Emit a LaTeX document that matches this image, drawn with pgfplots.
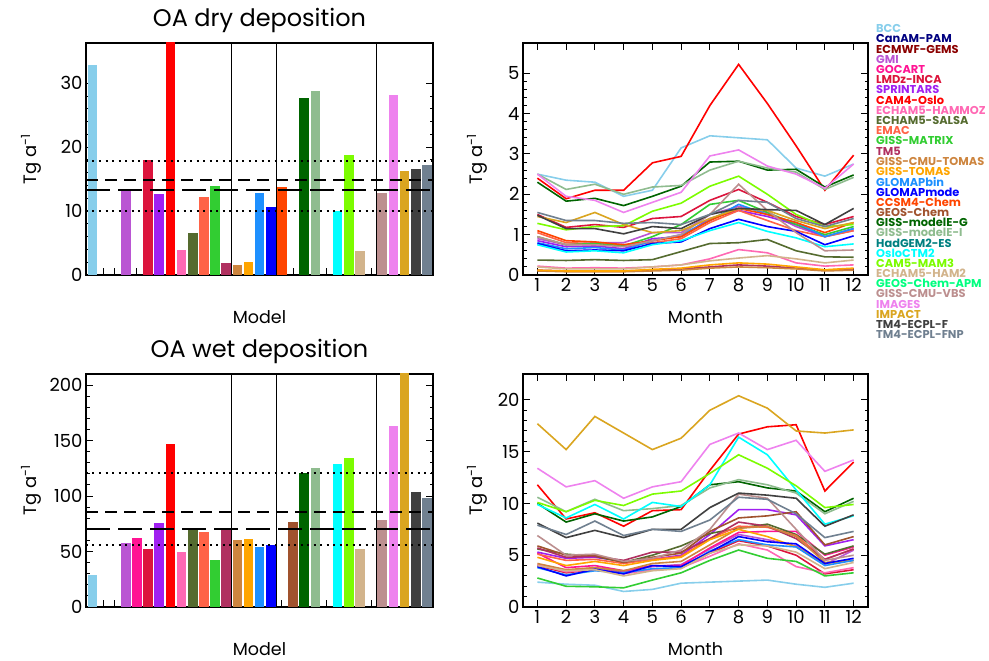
\documentclass[border=0pt]{standalone}
\usepackage{fontspec}
\setmainfont{Poppins}
\usepackage{pgfplots}
\usepackage{pgfplotstable}
\pgfplotsset{compat=1.18}

\definecolor{cBCC}{RGB}{135,206,235}
\definecolor{cCONAM}{RGB}{0,0,128}
\definecolor{cECMWF}{RGB}{139,0,0}
\definecolor{cGMI}{RGB}{186,85,211}
\definecolor{cGOC}{RGB}{255,20,147}
\definecolor{cLMDZ}{RGB}{220,20,60}
\definecolor{cSPR}{RGB}{160,32,240}
\definecolor{cCAM4}{RGB}{255,0,0}
\definecolor{cHMZ}{RGB}{255,105,180}
\definecolor{cSALSA}{RGB}{85,107,47}
\definecolor{cEMAC}{RGB}{255,99,71}
\definecolor{cMATRIX}{RGB}{50,205,50}
\definecolor{cTM5}{RGB}{176,48,96}
\definecolor{cCMUT}{RGB}{205,133,63}
\definecolor{cTOMAS}{RGB}{255,165,0}
\definecolor{cGLB}{RGB}{30,144,255}
\definecolor{cGLM}{RGB}{0,0,255}
\definecolor{cCCSM}{RGB}{255,69,0}
\definecolor{cGEOS}{RGB}{160,82,45}
\definecolor{cMEG}{RGB}{0,100,0}
\definecolor{cMEI}{RGB}{143,188,143}
\definecolor{cHAD}{RGB}{0,128,128}
\definecolor{cOSLO}{RGB}{0,255,255}
\definecolor{cCAM5}{RGB}{124,252,0}
\definecolor{cHAM2}{RGB}{210,180,140}
\definecolor{cAPM}{RGB}{0,255,127}
\definecolor{cVBS}{RGB}{188,143,143}
\definecolor{cIMG}{RGB}{238,130,238}
\definecolor{cIMP}{RGB}{218,165,32}
\definecolor{cTMF}{RGB}{64,64,64}
\definecolor{cTMFNP}{RGB}{112,128,144}

% monthly dry deposition
\pgfplotstableread{
m BCC GMI LMDz SPR CAM4 HMZ SALSA EMAC MATRIX TM5 CMUT TOMAS GLB GLM CCSM MEG MEI OSLO CAM5 HAM2 VBS IMG IMP TMF TMFNP
1  2.50 0.90 1.50 0.85 2.40 0.22 0.37 1.05 0.95 0.12 0.10 0.12 0.80 0.78 1.10 2.30 2.50 0.75 1.28 0.20 0.95 2.50 1.45 1.48 1.55
2  2.35 0.75 1.18 0.70 1.89 0.17 0.36 0.80 0.75 0.10 0.08 0.10 0.65 0.60 0.85 1.83 2.12 0.57 1.12 0.15 0.75 1.95 1.30 1.15 1.35
3  2.30 0.80 1.25 0.72 2.10 0.18 0.38 0.78 0.78 0.10 0.08 0.10 0.68 0.62 0.82 1.90 2.25 0.60 1.20 0.15 0.75 1.85 1.55 1.15 1.35
4  1.95 0.80 1.18 0.65 2.10 0.17 0.36 0.72 0.72 0.10 0.08 0.10 0.62 0.60 0.75 1.72 2.00 0.55 1.22 0.15 0.70 1.55 1.25 1.02 1.28
5  2.10 1.05 1.40 0.90 2.78 0.20 0.38 0.80 0.95 0.12 0.10 0.14 0.85 0.78 0.85 1.95 2.18 0.75 1.58 0.20 0.85 1.80 1.05 1.20 1.30
6  3.15 1.05 1.45 0.95 2.94 0.25 0.58 0.90 1.25 0.15 0.12 0.17 1.00 0.82 0.95 2.20 2.22 0.85 1.78 0.25 1.00 2.05 1.10 1.15 1.25
7  3.45 1.50 1.85 1.40 4.20 0.40 0.78 1.30 1.75 0.20 0.17 0.25 1.35 1.15 1.35 2.80 2.60 1.10 2.20 0.35 1.50 2.95 1.40 1.50 1.50
8  3.40 1.70 2.12 1.60 5.22 0.63 0.80 1.60 1.85 0.25 0.20 0.30 1.75 1.38 1.65 2.82 2.82 1.30 2.45 0.42 2.25 3.10 1.65 1.65 1.85
9  3.35 1.55 1.80 1.45 4.25 0.55 0.88 1.35 1.55 0.22 0.18 0.27 1.50 1.20 1.50 2.60 2.65 1.08 2.00 0.48 1.60 2.70 1.60 1.62 1.80
10 2.65 1.20 1.45 1.25 3.20 0.30 0.60 1.10 1.25 0.17 0.15 0.20 1.30 1.08 1.30 2.62 2.55 0.92 1.50 0.40 1.05 2.50 1.35 1.60 1.40
11 2.45 0.95 1.25 0.95 2.10 0.22 0.45 0.95 1.00 0.12 0.10 0.13 0.95 0.75 1.05 2.18 2.12 0.70 1.20 0.30 0.60 2.15 1.15 1.25 1.20
12 2.75 1.10 1.45 1.15 2.97 0.25 0.44 1.10 1.20 0.15 0.12 0.17 1.15 0.97 1.30 2.48 2.42 0.77 1.25 0.37 0.62 2.75 1.30 1.65 1.40
}\dry

% monthly wet deposition
\pgfplotstableread{
m BCC GMI GOC LMDz SPR CAM4 HMZ SALSA EMAC MATRIX TM5 CMUT TOMAS GLB GLM GEOS MEG MEI OSLO CAM5 HAM2 VBS IMG IMP TMF TMFNP
1  2.4 4.0 5.2 4.0 5.3 11.8 4.1 5.6 5.1 2.80 5.7 4.2 4.8 3.8 3.90 5.9 10.0 10.6 9.9 10.1 4.0 6.9 13.4 17.7 8.1 7.9
2  2.2 3.5 3.8 3.3 4.7 8.5 3.4 5.1 4.5 2.00 4.8 3.6 4.0 3.1 3.00 5.0 8.2 9.2 8.6 9.2 3.5 5.0 11.6 15.2 6.7 7.0
3  2.1 3.8 4.0 3.6 4.8 9.1 3.6 4.9 4.6 1.95 4.9 3.8 4.4 3.5 3.65 5.0 9.0 10.4 9.9 10.3 3.6 5.1 12.2 18.4 7.4 8.3
4  1.5 3.4 3.5 3.3 4.4 7.8 3.2 4.3 4.2 1.85 4.5 3.5 4.0 3.3 3.20 4.3 8.3 9.3 8.5 9.8 3.0 4.4 10.5 16.8 6.7 6.9
5  1.7 3.9 4.0 3.6 4.6 9.3 3.6 5.0 4.6 2.60 5.3 4.2 4.5 3.7 4.00 4.8 8.7 9.5 10.1 10.9 3.5 4.7 11.6 15.2 7.5 7.5
6  2.3 4.1 4.0 3.8 5.0 9.4 3.8 5.9 4.9 3.30 5.3 4.4 4.8 3.8 3.90 5.2 9.7 9.8 9.7 11.2 3.7 5.5 12.1 16.3 7.5 7.3
7  2.4 5.6 5.7 5.2 7.0 13.2 4.9 7.1 6.6 4.50 6.6 6.0 6.5 5.4 5.30 7.3 11.8 11.5 11.8 12.9 5.2 7.5 15.7 19.0 9.6 8.4
8  2.5 7.0 7.2 6.4 9.4 16.7 6.1 7.6 7.8 5.50 8.2 7.6 7.5 6.5 6.80 8.6 12.1 12.3 16.4 14.7 6.0 10.9 16.8 20.4 11.0 10.6
9  2.6 6.5 7.3 5.9 9.4 17.4 5.5 8.0 7.7 4.70 7.8 7.8 6.8 6.0 6.30 8.8 11.5 11.8 14.7 13.4 5.9 10.5 15.2 19.2 10.8 10.4
10 2.2 5.9 7.3 5.0 8.9 17.6 3.9 7.0 6.9 4.40 6.6 6.8 5.8 5.8 6.10 9.2 11.2 11.0 11.3 11.7 5.3 7.5 16.1 17.0 10.5 9.0
11 1.9 4.1 5.0 3.2 5.9 11.2 3.3 5.1 4.6 3.00 4.6 4.3 4.2 4.0 4.20 6.0 9.2 9.0 8.0 9.6 3.7 4.5 13.1 16.8 7.8 6.7
12 2.3 5.5 5.8 3.6 6.5 14.0 3.8 5.9 5.6 3.30 5.6 4.5 4.5 4.5 4.70 6.8 10.5 10.2 8.8 9.9 4.3 5.0 14.2 17.1 8.9 7.3
}\wet

\pgfplotsset{
  base/.style={scale only axis, axis line style={line width=1.5pt},
    tick style={line width=1pt, black}, tick align=inside,
    major tick length=7pt, minor tick length=3.5pt,
    tick label style={font=\fontsize{18}{18}\selectfont},
    /pgf/number format/assume math mode=true,
    title style={at={(0.5,1)}, anchor=base, yshift=10pt, font=\fontsize{24}{24}\selectfont},
    every axis x label/.style={at={(axis description cs:0.5,0)}, anchor=center, yshift=-42pt,
      inner sep=0pt, font=\fontsize{17.5}{17.5}\selectfont},
  },
  barax/.style={base, width=347pt, xmin=-0.57, xmax=30.55, ymin=0,
    xtick={0,...,30}, xticklabel style={opacity=0}, xtick pos=left, ytick pos=both,
    minor y tick num=4, xlabel={Model},
    ylabel={Tg a\textsuperscript{-1}},
    every axis y label/.style={at={(axis description cs:-0.158,0.5)}, rotate=90, anchor=center,
      inner sep=0pt, font=\fontsize{18}{18}\selectfont}},
  lineax/.style={base, width=345pt, xmin=0.5, xmax=12.5, ymin=0,
    xtick={1,...,12}, minor y tick num=4, xlabel={Month},
    ylabel={Tg a\textsuperscript{-1}},
    every axis y label/.style={at={(axis description cs:-0.133,0.5)}, rotate=90, anchor=center,
      inner sep=0pt, font=\fontsize{18}{18}\selectfont}},
  mybar/.style={ybar, bar width=0.86, bar shift=0pt, draw=none, fill=#1},
  ln/.style={line width=1.6pt, no markers, color=#1},
  sep/.style={line width=1.5pt, black, no markers},
  dotl/.style={line width=2pt, black, no markers, dash pattern=on 2pt off 4.5pt},
  dshl/.style={line width=2pt, black, no markers, dash pattern=on 12pt off 7pt},
  ldshl/.style={line width=2pt, black, no markers, dash pattern=on 24pt off 8pt},
}

\begin{document}
\begin{tikzpicture}
\path[use as bounding box] (0,0) rectangle (989pt,661pt);

% ---------------- dry deposition bars ----------------
\begin{axis}[barax, at={(86pt,386pt)}, anchor=south west, height=232pt,
  ymax=36.3, ytick={0,10,20,30}, title={OA dry deposition}]
\addplot[mybar=cBCC] coordinates {(0,32.9)};
\addplot[mybar=cGMI] coordinates {(3,13.3)};
\addplot[mybar=cLMDZ] coordinates {(5,18.0)};
\addplot[mybar=cSPR] coordinates {(6,12.6)};
\addplot[mybar=cCAM4] coordinates {(7,38.0)};
\addplot[mybar=cHMZ] coordinates {(8,3.9)};
\addplot[mybar=cSALSA] coordinates {(9,6.6)};
\addplot[mybar=cEMAC] coordinates {(10,12.2)};
\addplot[mybar=cMATRIX] coordinates {(11,13.9)};
\addplot[mybar=cTM5] coordinates {(12,1.8)};
\addplot[mybar=cCMUT] coordinates {(13,1.5)};
\addplot[mybar=cTOMAS] coordinates {(14,2.1)};
\addplot[mybar=cGLB] coordinates {(15,12.8)};
\addplot[mybar=cGLM] coordinates {(16,10.7)};
\addplot[mybar=cCCSM] coordinates {(17,13.7)};
\addplot[mybar=cMEG] coordinates {(19,27.7)};
\addplot[mybar=cMEI] coordinates {(20,28.8)};
\addplot[mybar=cOSLO] coordinates {(22,10.0)};
\addplot[mybar=cCAM5] coordinates {(23,18.7)};
\addplot[mybar=cHAM2] coordinates {(24,3.7)};
\addplot[mybar=cVBS] coordinates {(26,12.8)};
\addplot[mybar=cIMG] coordinates {(27,28.2)};
\addplot[mybar=cIMP] coordinates {(28,16.2)};
\addplot[mybar=cTMF] coordinates {(29,16.6)};
\addplot[mybar=cTMFNP] coordinates {(30,17.2)};
\addplot[sep] coordinates {(12.5,0) (12.5,36.3)};
\addplot[sep] coordinates {(16.5,0) (16.5,36.3)};
\addplot[sep] coordinates {(25.5,0) (25.5,36.3)};
\addplot[dotl] coordinates {(-0.57,17.9) (30.55,17.9)};
\addplot[dotl] coordinates {(-0.57,10.0) (30.55,10.0)};
\addplot[dshl] coordinates {(-0.57,14.8) (30.55,14.8)};
\addplot[ldshl] coordinates {(-0.57,13.3) (30.55,13.3)};
\end{axis}

% ---------------- wet deposition bars ----------------
\begin{axis}[barax, at={(86pt,54pt)}, anchor=south west, height=233pt,
  ymax=210, ytick={0,50,100,150,200}, title={OA wet deposition}]
\addplot[mybar=cBCC] coordinates {(0,29)};
\addplot[mybar=cGMI] coordinates {(3,58)};
\addplot[mybar=cGOC] coordinates {(4,62)};
\addplot[mybar=cLMDZ] coordinates {(5,52)};
\addplot[mybar=cSPR] coordinates {(6,76)};
\addplot[mybar=cCAM4] coordinates {(7,147)};
\addplot[mybar=cHMZ] coordinates {(8,49.5)};
\addplot[mybar=cSALSA] coordinates {(9,71)};
\addplot[mybar=cEMAC] coordinates {(10,68)};
\addplot[mybar=cMATRIX] coordinates {(11,42)};
\addplot[mybar=cTM5] coordinates {(12,70)};
\addplot[mybar=cCMUT] coordinates {(13,60.5)};
\addplot[mybar=cTOMAS] coordinates {(14,61.5)};
\addplot[mybar=cGLB] coordinates {(15,54)};
\addplot[mybar=cGLM] coordinates {(16,56)};
\addplot[mybar=cGEOS] coordinates {(18,77)};
\addplot[mybar=cMEG] coordinates {(19,121)};
\addplot[mybar=cMEI] coordinates {(20,125.5)};
\addplot[mybar=cOSLO] coordinates {(22,128.5)};
\addplot[mybar=cCAM5] coordinates {(23,134.5)};
\addplot[mybar=cHAM2] coordinates {(24,52)};
\addplot[mybar=cVBS] coordinates {(26,78)};
\addplot[mybar=cIMG] coordinates {(27,163)};
\addplot[mybar=cIMP] coordinates {(28,212)};
\addplot[mybar=cTMF] coordinates {(29,103.5)};
\addplot[mybar=cTMFNP] coordinates {(30,98)};
\addplot[sep] coordinates {(12.5,0) (12.5,210)};
\addplot[sep] coordinates {(16.5,0) (16.5,210)};
\addplot[sep] coordinates {(25.5,0) (25.5,210)};
\addplot[dotl] coordinates {(-0.57,120.6) (30.55,120.6)};
\addplot[dotl] coordinates {(-0.57,55.5) (30.55,55.5)};
\addplot[dshl] coordinates {(-0.57,86) (30.55,86)};
\addplot[ldshl] coordinates {(-0.57,70) (30.55,70)};
\end{axis}

% ---------------- dry monthly ----------------
\begin{axis}[lineax, at={(523pt,386pt)}, anchor=south west, height=232pt,
  ymax=5.75, ytick={0,1,2,3,4,5}]
\addplot[ln=cBCC] table[x=m,y=BCC]{\dry};
\addplot[ln=cGMI] table[x=m,y=GMI]{\dry};
\addplot[ln=cLMDZ] table[x=m,y=LMDz]{\dry};
\addplot[ln=cSPR] table[x=m,y=SPR]{\dry};
\addplot[ln=cCAM4] table[x=m,y=CAM4]{\dry};
\addplot[ln=cHMZ] table[x=m,y=HMZ]{\dry};
\addplot[ln=cSALSA] table[x=m,y=SALSA]{\dry};
\addplot[ln=cEMAC] table[x=m,y=EMAC]{\dry};
\addplot[ln=cMATRIX] table[x=m,y=MATRIX]{\dry};
\addplot[ln=cTM5] table[x=m,y=TM5]{\dry};
\addplot[ln=cCMUT] table[x=m,y=CMUT]{\dry};
\addplot[ln=cTOMAS] table[x=m,y=TOMAS]{\dry};
\addplot[ln=cGLB] table[x=m,y=GLB]{\dry};
\addplot[ln=cGLM] table[x=m,y=GLM]{\dry};
\addplot[ln=cCCSM] table[x=m,y=CCSM]{\dry};
\addplot[ln=cMEG] table[x=m,y=MEG]{\dry};
\addplot[ln=cMEI] table[x=m,y=MEI]{\dry};
\addplot[ln=cOSLO] table[x=m,y=OSLO]{\dry};
\addplot[ln=cCAM5] table[x=m,y=CAM5]{\dry};
\addplot[ln=cHAM2] table[x=m,y=HAM2]{\dry};
\addplot[ln=cVBS] table[x=m,y=VBS]{\dry};
\addplot[ln=cIMG] table[x=m,y=IMG]{\dry};
\addplot[ln=cIMP] table[x=m,y=IMP]{\dry};
\addplot[ln=cTMF] table[x=m,y=TMF]{\dry};
\addplot[ln=cTMFNP] table[x=m,y=TMFNP]{\dry};
\end{axis}

% ---------------- wet monthly ----------------
\begin{axis}[lineax, at={(523pt,54pt)}, anchor=south west, height=233pt,
  ymax=22.5, ytick={0,5,10,15,20}]
\addplot[ln=cBCC] table[x=m,y=BCC]{\wet};
\addplot[ln=cGMI] table[x=m,y=GMI]{\wet};
\addplot[ln=cGOC] table[x=m,y=GOC]{\wet};
\addplot[ln=cLMDZ] table[x=m,y=LMDz]{\wet};
\addplot[ln=cSPR] table[x=m,y=SPR]{\wet};
\addplot[ln=cCAM4] table[x=m,y=CAM4]{\wet};
\addplot[ln=cHMZ] table[x=m,y=HMZ]{\wet};
\addplot[ln=cSALSA] table[x=m,y=SALSA]{\wet};
\addplot[ln=cEMAC] table[x=m,y=EMAC]{\wet};
\addplot[ln=cMATRIX] table[x=m,y=MATRIX]{\wet};
\addplot[ln=cTM5] table[x=m,y=TM5]{\wet};
\addplot[ln=cCMUT] table[x=m,y=CMUT]{\wet};
\addplot[ln=cTOMAS] table[x=m,y=TOMAS]{\wet};
\addplot[ln=cGLB] table[x=m,y=GLB]{\wet};
\addplot[ln=cGLM] table[x=m,y=GLM]{\wet};
\addplot[ln=cGEOS] table[x=m,y=GEOS]{\wet};
\addplot[ln=cMEG] table[x=m,y=MEG]{\wet};
\addplot[ln=cMEI] table[x=m,y=MEI]{\wet};
\addplot[ln=cOSLO] table[x=m,y=OSLO]{\wet};
\addplot[ln=cCAM5] table[x=m,y=CAM5]{\wet};
\addplot[ln=cHAM2] table[x=m,y=HAM2]{\wet};
\addplot[ln=cVBS] table[x=m,y=VBS]{\wet};
\addplot[ln=cIMG] table[x=m,y=IMG]{\wet};
\addplot[ln=cIMP] table[x=m,y=IMP]{\wet};
\addplot[ln=cTMF] table[x=m,y=TMF]{\wet};
\addplot[ln=cTMFNP] table[x=m,y=TMFNP]{\wet};
\end{axis}

% ---------------- legend (model names) ----------------
\begin{scope}[every node/.style={anchor=west, inner sep=0pt, font=\fontsize{11.4}{11.4}\selectfont\bfseries}]
\node[text=cBCC]   at (876pt,632.3pt) {BCC};
\node[text=cCONAM] at (876pt,622.1pt) {CanAM-PAM};
\node[text=cECMWF] at (876pt,611.9pt) {ECMWF-GEMS};
\node[text=cGMI]   at (876pt,601.7pt) {GMI};
\node[text=cGOC]   at (876pt,591.5pt) {GOCART};
\node[text=cLMDZ]  at (876pt,581.3pt) {LMDz-INCA};
\node[text=cSPR]   at (876pt,571.1pt) {SPRINTARS};
\node[text=cCAM4]  at (876pt,560.9pt) {CAM4-Oslo};
\node[text=cHMZ]   at (876pt,550.7pt) {ECHAM5-HAMMOZ};
\node[text=cSALSA] at (876pt,540.5pt) {ECHAM5-SALSA};
\node[text=cEMAC]  at (876pt,530.3pt) {EMAC};
\node[text=cMATRIX] at (876pt,520.1pt) {GISS-MATRIX};
\node[text=cTM5]   at (876pt,509.9pt) {TM5};
\node[text=cCMUT]  at (876pt,499.7pt) {GISS-CMU-TOMAS};
\node[text=cTOMAS] at (876pt,489.5pt) {GISS-TOMAS};
\node[text=cGLB]   at (876pt,479.3pt) {GLOMAPbin};
\node[text=cGLM]   at (876pt,469.1pt) {GLOMAPmode};
\node[text=cCCSM]  at (876pt,458.9pt) {CCSM4-Chem};
\node[text=cGEOS]  at (876pt,448.7pt) {GEOS-Chem};
\node[text=cMEG]   at (876pt,438.5pt) {GISS-modelE-G};
\node[text=cMEI]   at (876pt,428.3pt) {GISS-modelE-I};
\node[text=cHAD]   at (876pt,418.1pt) {HadGEM2-ES};
\node[text=cOSLO]  at (876pt,407.9pt) {OsloCTM2};
\node[text=cCAM5]  at (876pt,397.7pt) {CAM5-MAM3};
\node[text=cHAM2]  at (876pt,387.5pt) {ECHAM5-HAM2};
\node[text=cAPM]   at (876pt,377.3pt) {GEOS-Chem-APM};
\node[text=cVBS]   at (876pt,367.1pt) {GISS-CMU-VBS};
\node[text=cIMG]   at (876pt,356.9pt) {IMAGES};
\node[text=cIMP]   at (876pt,346.7pt) {IMPACT};
\node[text=cTMF]   at (876pt,336.5pt) {TM4-ECPL-F};
\node[text=cTMFNP] at (876pt,326.3pt) {TM4-ECPL-FNP};
\end{scope}
\end{tikzpicture}
\end{document}
